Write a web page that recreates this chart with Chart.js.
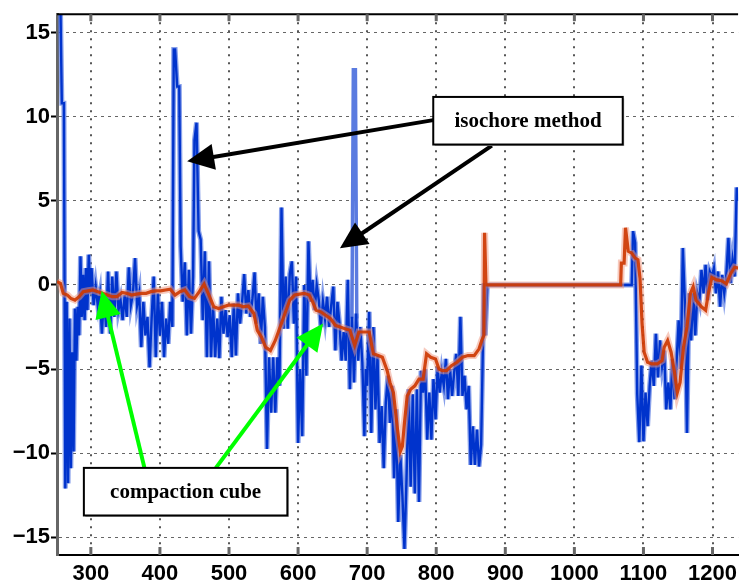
<!DOCTYPE html>
<html><head><meta charset="utf-8">
<script src="https://cdn.jsdelivr.net/npm/chart.js@4.4.0/dist/chart.umd.min.js"></script>
<style>html,body{margin:0;padding:0;background:#fff;}#wrap{position:relative;width:743px;height:586px;}</style>
</head><body><div id="wrap"><canvas id="c" width="743" height="586"></canvas></div>
<script>
const xTicks = [300,400,500,600,700,800,900,1000,1100,1200];
const xTickLabels = ['300','400','500','600','700','800','900','1000','1100','1200'];
const yTicks = [-15,-10,-5,0,5,10,15];
const yTickLabels = ['\u221215','\u221210','\u22125','0','5','10','15'];

const blueX = [251,256,258,261,263,265,267,269,271,273,275,277,279,281,283,285,287,289,291,293,295,297,299,301,304,307,310,313,316,319,322,325,328,331,334,337,340,343,346,349,352,355,358,361,364,367,370,373,376,379,382,385,388,391,394,397,400,403,406,409,412,415,418,420,422,425,428,430,433,436,439,442,445,448,450,453,456,459,462,465,468,471,474,477,480,483,486,489,492,495,498,501,504,507,510,513,516,519,522,525,528,531,534,537,540,543,546,549,552,555,558,561,564,567,570,573,576,579,582,585,588,591,594,597,600,603,606,609,612,615,618,621,624,627,630,633,636,639,642,645,648,651,654,657,660,663,666,669,672,675,678,681,684,687,690,693,696,698,700,703,706,709,712,715,718,721,724,727,730,733,736,739,742,745,748,751,754,757,760,763,766,769,772,775,778,781,784,787,790,793,796,799,802,805,808,811,814,817,820,823,826,829,832,835,838,841,844,847,850,853,856,859,862,865,867,869,871,874,1083,1085,1088,1091,1094,1097,1100,1103,1106,1109,1112,1115,1118,1121,1124,1127,1130,1133,1136,1139,1142,1145,1148,1151,1154,1157,1160,1163,1166,1169,1172,1175,1178,1181,1184,1187,1190,1193,1196,1199,1202,1205,1208,1211,1214,1217,1220,1223,1226,1229,1232,1235,1237];
const blueY = [16.5,16.5,10.8,10.8,-12.1,-1.0,-11.8,-2.0,-10.9,-4.0,-9.9,-1.4,-4.5,-1.3,-3.0,1.7,-1.9,0.6,-2.1,1.0,-1.5,1.8,-0.5,1.0,-1.2,-0.1,-1.2,-0.5,-2.9,-0.6,-2.5,0.8,-2.9,0.5,-1.9,0.8,-1.5,-0.9,-2.1,-0.6,-1.9,1.05,-1.2,-0.5,1.6,-1.2,-0.5,-3.7,-1.0,-3.0,-1.9,-4.9,-2.0,0.5,-4.3,-0.5,-3.0,-1.0,-4.3,-2.0,-3.5,-1.0,-2.5,14.0,14.0,11.8,11.8,2.3,-1.0,1.35,-3.0,0.9,-2.9,0.5,8.6,9.65,3.2,2.7,-2.1,2.0,-4.3,1.4,-4.3,-1.3,-4.3,-2.0,-4.35,-0.7,-2.9,-1.5,-3.1,-1.8,-4.3,-1.1,-4.2,-0.5,-2.3,-1.0,0.65,-1.7,-0.3,-1.9,-0.8,0.75,-2.3,-0.5,-3.5,-0.7,-2.5,-9.75,-4.3,-7.6,-4.3,-7.6,-4.3,-6.0,4.6,-2.6,0.5,-2.6,0.65,1.4,-2.3,0.5,-9.4,-5.0,-9.0,0.0,-5.4,2.6,-1.0,0.3,-1.5,0.0,-0.9,-2.5,-1.0,-2.0,-0.7,-2.5,-1.2,-0.1,-3.9,-1.0,-2.3,-4.5,-2.8,-4.5,0.3,-6.2,-1.9,-5.8,-1.7,-4.5,-2.5,-4.6,-9.0,-5.0,-6.0,-1.6,-8.8,-2.5,-7.4,-4.2,-9.4,-7.2,-10.9,-7.0,-5.4,-8.2,-6.0,-11.5,-7.4,-14.1,-10.1,-12.5,-15.7,-11.5,-6.2,-12.0,-6.5,-12.4,-6.2,-12.9,-5.1,-6.4,-5.0,-9.2,-6.4,-9.2,-5.6,-8.0,-4.9,-6.4,-5.2,-6.0,-4.4,-6.8,-5.0,-6.6,-5.2,-4.1,-6.6,-1.9,-6.6,-5.4,-7.4,-6.0,-10.7,-8.4,-10.7,-8.6,-10.8,-9.5,-5.0,0.1,-3.0,0.0,0.0,3.2,2.5,-6.5,-9.35,-4.8,-9.3,-6.4,-8.4,-6.0,-4.5,-6.0,-2.9,-5.5,-3.3,-4.8,-3.9,-7.4,-5.8,-7.4,-4.4,-6.8,-4.5,-2.1,-5.0,2.2,-1.0,-8.8,-0.5,-3.3,-0.5,-3.0,-0.5,-1.0,0.9,-0.5,1.2,-0.9,0.8,0.5,1.0,-0.5,0.8,-1.3,0.6,-0.5,0.6,2.8,0.1,1.5,0.5,5.8,5.0];

const blueSpikeX = [678,680,683,685];
const blueSpikeY = [-2.0,12.8,12.8,-2.0];

const redX = [251,256,260,266,271,277,283,289,296,303,310,317,324,331,338,345,352,359,366,373,380,387,394,401,408,415,422,429,436,443,450,457,464,471,478,485,492,499,506,514,521,528,536,541,547,553,560,567,574,581,588,595,602,609,616,621,626,633,640,647,654,661,668,675,682,688,696,703,709,716,722,729,733,738,741,744,748,751,754,758,763,769,775,781,786,792,799,804,809,815,822,830,838,846,855,862,866,869,870,872,1067,1068,1072,1074,1078,1083,1088,1092,1095,1098,1101,1106,1112,1120,1127,1130,1135,1140,1145,1149,1153,1158,1163,1168,1172,1176,1184,1190,1194,1199,1206,1213,1220,1226,1232,1237];
const redY = [0.2,0.1,-0.5,-0.6,-0.8,-0.9,-0.7,-0.4,-0.35,-0.3,-0.4,-0.5,-0.6,-0.7,-0.7,-0.45,-0.5,-0.6,-0.55,-0.5,-0.5,-0.4,-0.35,-0.35,-0.3,-0.25,-0.6,-0.4,-0.3,-0.7,-0.8,-0.4,0.05,-0.6,-1.3,-1.4,-1.3,-1.2,-1.2,-1.2,-1.3,-1.25,-1.7,-2.7,-3.1,-3.7,-3.9,-3.3,-2.5,-1.7,-0.9,-0.6,-0.55,-0.5,-0.6,-1.0,-1.5,-1.6,-1.8,-2.0,-2.4,-2.5,-2.6,-2.7,-3.6,-2.8,-2.8,-2.8,-4.1,-4.2,-4.3,-5.1,-5.8,-6.4,-7.5,-8.6,-9.9,-9.6,-8.2,-6.6,-6.2,-6.0,-5.6,-5.6,-4.1,-4.3,-4.4,-5.0,-5.1,-5.1,-4.8,-4.6,-4.3,-4.2,-4.2,-3.8,-3.3,-3.0,3.1,0,0,1.3,1.3,3.4,2.0,1.9,1.6,1.5,0.4,-2.3,-4.0,-4.6,-4.7,-4.7,-4.5,-3.7,-3.3,-4.0,-5.2,-6.4,-5.8,-3.7,-2.5,-0.5,-0.1,-0.9,-1.3,-1.5,-0.5,0.45,0.3,0.25,0.06,0.65,1.05,1.0];

// annotations, in data coordinates
const noteBoxes = [
  {text: 'isochore method', x1: 795.7, y1: 11.18, x2: 1070, y2: 8.35},
  {text: 'compaction cube', x1: 289.9, y1: -10.88, x2: 584.5, y2: -13.71}
];
const noteArrows = [
  {color: '#000000', from: [795.7, 9.8], to: [439.4, 7.35]},
  {color: '#000000', from: [880.5, 8.29], to: [660.6, 2.18]},
  {color: '#00ff00', from: [377.6, -10.88], to: [315.8, -0.35]},
  {color: '#00ff00', from: [481.0, -10.88], to: [636.2, -2.29]}
];

function pts(xs, ys){ return xs.map((x,i)=>({x:x, y:ys[i]})); }

const annotPlugin = {
  id: 'annot',
  afterDraw(chart){
    const ctx = chart.ctx, ca = chart.chartArea;
    const sx = chart.scales.x, sy = chart.scales.y;
    ctx.save();
    ctx.strokeStyle = '#000'; ctx.lineWidth = 2;
    ctx.beginPath(); ctx.moveTo(ca.left, ca.top); ctx.lineTo(ca.right, ca.top); ctx.stroke();
    ctx.strokeStyle = '#666'; ctx.lineWidth = 3;
    xTicks.forEach(v => {
      const px = sx.getPixelForValue(v);
      ctx.beginPath(); ctx.moveTo(px, ca.bottom); ctx.lineTo(px, ca.bottom - 8); ctx.stroke();
      ctx.beginPath(); ctx.moveTo(px, ca.top); ctx.lineTo(px, ca.top + 7); ctx.stroke();
    });
    noteArrows.forEach(a => {
      const x0 = sx.getPixelForValue(a.from[0]), y0 = sy.getPixelForValue(a.from[1]);
      const x1 = sx.getPixelForValue(a.to[0]), y1 = sy.getPixelForValue(a.to[1]);
      const ang = Math.atan2(y1 - y0, x1 - x0);
      const L = 27, W = 13;
      const bx = x1 - L * Math.cos(ang), by = y1 - L * Math.sin(ang);
      ctx.strokeStyle = a.color; ctx.fillStyle = a.color; ctx.lineWidth = 4; ctx.lineCap = 'butt';
      ctx.beginPath(); ctx.moveTo(x0, y0); ctx.lineTo(bx + 2 * Math.cos(ang), by + 2 * Math.sin(ang)); ctx.stroke();
      ctx.beginPath();
      ctx.moveTo(x1, y1);
      ctx.lineTo(bx + W * Math.sin(ang), by - W * Math.cos(ang));
      ctx.lineTo(bx - W * Math.sin(ang), by + W * Math.cos(ang));
      ctx.closePath(); ctx.fill();
    });
    noteBoxes.forEach(b => {
      const l = sx.getPixelForValue(b.x1), r = sx.getPixelForValue(b.x2);
      const t = sy.getPixelForValue(b.y1), bt = sy.getPixelForValue(b.y2);
      ctx.fillStyle = '#b0b0b0'; ctx.fillRect(l + 1.5, t + 1.5, r - l, bt - t);
      ctx.fillStyle = '#fff'; ctx.fillRect(l, t, r - l, bt - t);
      ctx.strokeStyle = '#000'; ctx.lineWidth = 2; ctx.strokeRect(l, t, r - l, bt - t);
      ctx.fillStyle = '#000';
      ctx.font = 'bold 21px "Liberation Serif", "Times New Roman", serif';
      ctx.textAlign = 'center'; ctx.textBaseline = 'middle';
      ctx.fillText(b.text, (l + r) / 2, (t + bt) / 2 + 1);
    });
    ctx.restore();
  }
};

const tickFont = {family: '"Liberation Sans", Arial, sans-serif', size: 22, weight: 'bold'};

new Chart(document.getElementById('c'), {
  type: 'line',
  data: {
    datasets: [
      {data: pts(redX, redY), borderColor: 'rgba(205,55,0,0.9)', borderWidth: 3.2, order: 0},
      {data: pts(redX, redY), borderColor: 'rgba(240,150,125,0.5)', borderWidth: 7, order: 1},
      {data: pts(blueX, blueY), borderColor: '#0033cc', borderWidth: 2.4, order: 2},
      {data: pts(blueX, blueY), borderColor: 'rgba(85,120,225,0.7)', borderWidth: 5, order: 3},
      {data: pts(blueSpikeX, blueSpikeY), borderColor: '#5a7be0', borderWidth: 3.5, order: 3}
    ]
  },
  options: {
    responsive: false, animation: false,
    layout: {padding: {top: 8, left: 0, right: 0, bottom: 0}},
    elements: {point: {radius: 0}, line: {tension: 0, borderJoinStyle: 'miter'}},
    plugins: {legend: {display: false}, tooltip: {enabled: false}},
    scales: {
      x: {
        type: 'linear', min: 251, max: 1237,
        afterBuildTicks: s => { s.ticks = xTicks.map(v => ({value: v})); },
        afterFit: s => { s.height = 31; },
        grid: {color: '#555', lineWidth: 2, drawTicks: false},
        border: {color: '#000', width: 2, dash: [2, 6]},
        ticks: {font: tickFont, color: '#000', padding: 6, maxRotation: 0, autoSkip: false,
          callback: v => { const i = xTicks.indexOf(v); return i >= 0 ? xTickLabels[i] : ''; }}
      },
      y: {
        type: 'linear', min: -16.06, max: 16.1,
        afterBuildTicks: s => { s.ticks = yTicks.map(v => ({value: v})); },
        afterFit: s => { s.width = 57; },
        grid: {color: '#666', lineWidth: 1, drawTicks: true, tickLength: 6, tickColor: '#000', tickWidth: 2},
        border: {color: '#666', width: 3, dash: [3, 4]},
        ticks: {font: tickFont, color: '#000', padding: 1,
          callback: v => { const i = yTicks.indexOf(v); return i >= 0 ? yTickLabels[i] : ''; }}
      }
    }
  },
  plugins: [annotPlugin]
});
</script></body></html>
